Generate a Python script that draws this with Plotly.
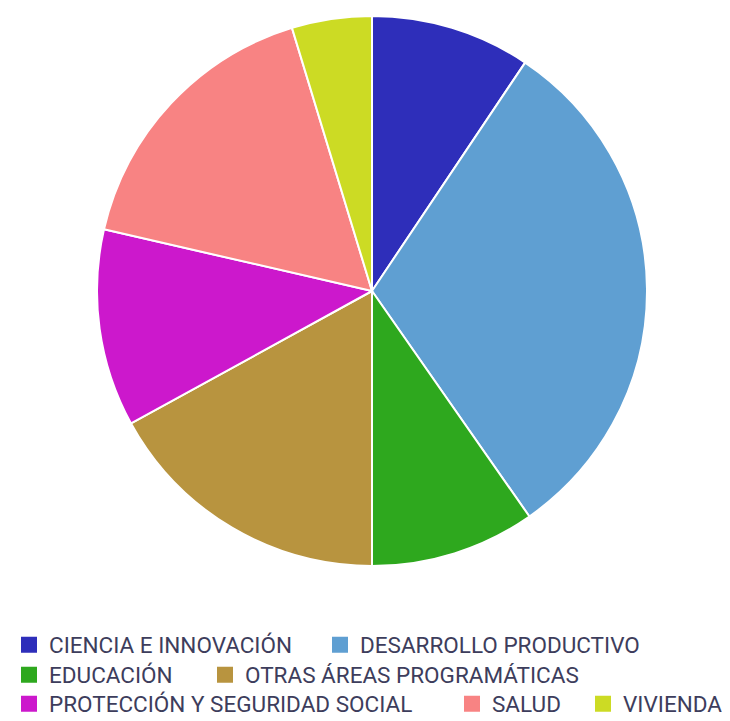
import plotly.graph_objects as go

labels = ["CIENCIA E INNOVACIÓN", "DESARROLLO PRODUCTIVO", "EDUCACIÓN",
          "OTRAS ÁREAS PROGRAMÁTICAS", "PROTECCIÓN Y SEGURIDAD SOCIAL",
          "SALUD", "VIVIENDA"]
values = [9.4, 30.9, 9.7, 17.0, 11.6, 16.7, 4.7]
colors = ["#2E2EBA", "#5F9FD2", "#2EA81E", "#B8943F", "#CC18CC", "#F88383", "#CCDB24"]

# legend placement (layout only): row index and left offset (px) of each entry
legend_row = [0, 0, 1, 1, 2, 2, 2]
legend_x = [1, 312, 1, 197, 1, 444, 575]
row_y = [637, 667, 696]

W, H = 730, 721
cx, cy, r = 364, 283, 275

fig = go.Figure(go.Pie(
    labels=labels, values=values, sort=False, direction="clockwise", rotation=0,
    marker=dict(colors=colors, line=dict(color="white", width=2)),
    textinfo="none", hoverinfo="label+percent", showlegend=False,
    domain=dict(x=[(cx - r) / W, (cx + r) / W], y=[1 - (cy + r) / H, 1 - (cy - r) / H]),
))

legend_font = dict(family="Roboto, sans-serif", size=22.5, color="#3d3d5c")
layout_legends = {}
for i, lab in enumerate(labels):
    lname = "legend" if i == 0 else f"legend{i + 1}"
    fig.add_trace(go.Scatter(
        x=[None], y=[None], mode="markers", name=lab, legend=lname,
        marker=dict(symbol="square", size=16, color=colors[i]), showlegend=True,
        hoverinfo="skip",
    ))
    layout_legends[lname] = dict(
        orientation="h", xref="container", yref="container",
        x=legend_x[i] / W, xanchor="left", y=1 - row_y[legend_row[i]] / H, yanchor="middle",
        font=legend_font, bgcolor="rgba(0,0,0,0)", borderwidth=0,
        itemsizing="trace",
    )

fig.update_layout(
    width=W, height=H, margin=dict(l=0, r=0, t=0, b=0, autoexpand=False),
    paper_bgcolor="white", plot_bgcolor="white",
    xaxis=dict(visible=False), yaxis=dict(visible=False),
    **layout_legends,
)
fig.write_html("out.html")
